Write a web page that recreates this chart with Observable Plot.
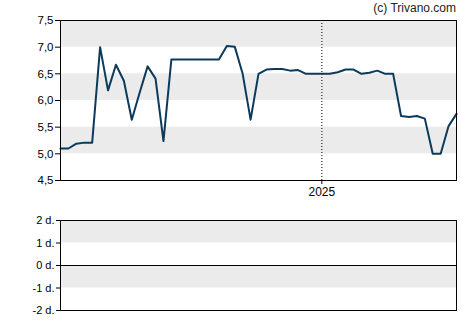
<!DOCTYPE html>
<html>
<head>
<meta charset="utf-8">
<script src="https://cdn.jsdelivr.net/npm/d3@7"></script>
<script src="https://cdn.jsdelivr.net/npm/@observablehq/plot@0.6"></script>
<style>
  body { margin: 0; background: #fff; }
  #wrap { position: relative; width: 470px; height: 325px; font-family: "Liberation Sans", Arial, sans-serif; }
  #copy { position: absolute; right: 14px; top: 1px; font-size: 12px; color: #222; line-height: 14px; }
  #top { position: absolute; left: 0; top: 0; }
  #bottom { position: absolute; left: 0; top: 205px; }
</style>
</head>
<body>
<div id="wrap">
  <div id="top"></div>
  <div id="bottom"></div>
  <div id="copy">(c) Trivano.com</div>
</div>
<script>
const dates = [
  "2024-05-15","2024-05-22","2024-05-29","2024-06-05","2024-06-12","2024-06-19","2024-06-26",
  "2024-07-03","2024-07-10","2024-07-17","2024-07-24","2024-07-31","2024-08-07","2024-08-14",
  "2024-08-21","2024-08-28","2024-09-04","2024-09-11","2024-09-18","2024-09-25","2024-10-02",
  "2024-10-09","2024-10-16","2024-10-23","2024-10-30","2024-11-06","2024-11-13","2024-11-20",
  "2024-11-27","2024-12-04","2024-12-11","2024-12-18","2024-12-25","2025-01-01","2025-01-08",
  "2025-01-15","2025-01-22","2025-01-29","2025-02-05","2025-02-12","2025-02-19","2025-02-26",
  "2025-03-05","2025-03-12","2025-03-19","2025-03-26","2025-04-02","2025-04-09","2025-04-16",
  "2025-04-23","2025-04-30"
];
const prices = [
  5.10,5.10,5.19,5.21,5.21,7.00,6.19,6.67,6.37,5.64,6.15,6.64,6.41,5.24,
  6.77,6.77,6.77,6.77,6.77,6.77,6.77,7.02,7.01,6.50,5.64,6.50,6.58,6.59,
  6.59,6.56,6.57,6.50,6.50,6.50,6.50,6.53,6.58,6.58,6.50,6.52,6.56,6.50,
  6.50,5.71,5.69,5.71,5.66,5.00,5.00,5.52,5.75
];
const topTicks = [4.5, 5.0, 5.5, 6.0, 6.5, 7.0, 7.5];
const topBands = [[7.0, 7.5], [6.0, 6.5], [5.0, 5.5]];
const bottomTicks = [-2, -1, 0, 1, 2];
const bottomBands = [[1, 2], [-1, 0]];
const yearTicks = ["2025-01-01"];
const yearLabels = ["2025"];

const data = dates.map((d, i) => ({date: new Date(d), value: prices[i]}));
const d0 = new Date(dates[0]);
const d1 = new Date(dates[dates.length - 1]);
const years = yearTicks.map(d => new Date(d));

const baseStyle = {fontFamily: "'Liberation Sans', Arial, sans-serif", color: "#000", background: "transparent", overflow: "visible"};

const topPlot = Plot.plot({
  width: 470, height: 205,
  marginLeft: 60, marginRight: 14, marginTop: 20, marginBottom: 25,
  style: {...baseStyle, fontSize: "11.5px"},
  x: {type: "utc", domain: [d0, d1]},
  y: {domain: [4.5, 7.5]},
  marks: [
    Plot.rect(topBands, {x1: () => d0, x2: () => d1, y1: d => d[0], y2: d => d[1], fill: "#ebebeb"}),
    Plot.ruleX(years, {stroke: "#000", strokeWidth: 1, strokeDasharray: "1,2"}),
    Plot.line(data, {x: "date", y: "value", stroke: "#0c3a5b", strokeWidth: 2, strokeLinejoin: "round"}),
    Plot.frame({stroke: "#000"}),
    Plot.axisY(topTicks, {tickFormat: d => d.toFixed(1).replace(".", ","), tickSize: 5, tickPadding: 2, label: null}),
    Plot.axisX(years, {tickFormat: (d, i) => yearLabels[i], tickSize: 4, tickPadding: 3, fontSize: 12, label: null})
  ]
});
document.getElementById("top").appendChild(topPlot);

const bottomPlot = Plot.plot({
  width: 470, height: 115,
  marginLeft: 60, marginRight: 14, marginTop: 15, marginBottom: 10,
  style: {...baseStyle, fontSize: "11px"},
  x: {type: "utc", domain: [d0, d1], axis: null},
  y: {domain: [-2, 2]},
  marks: [
    Plot.rect(bottomBands, {x1: () => d0, x2: () => d1, y1: d => d[0], y2: d => d[1], fill: "#ebebeb"}),
    Plot.ruleY([0], {stroke: "#000", strokeWidth: 1}),
    Plot.frame({stroke: "#000"}),
    Plot.axisY(bottomTicks, {tickFormat: d => `${d} d.`, tickSize: 4, tickPadding: 2, label: null})
  ]
});
document.getElementById("bottom").appendChild(bottomPlot);
</script>
</body>
</html>
